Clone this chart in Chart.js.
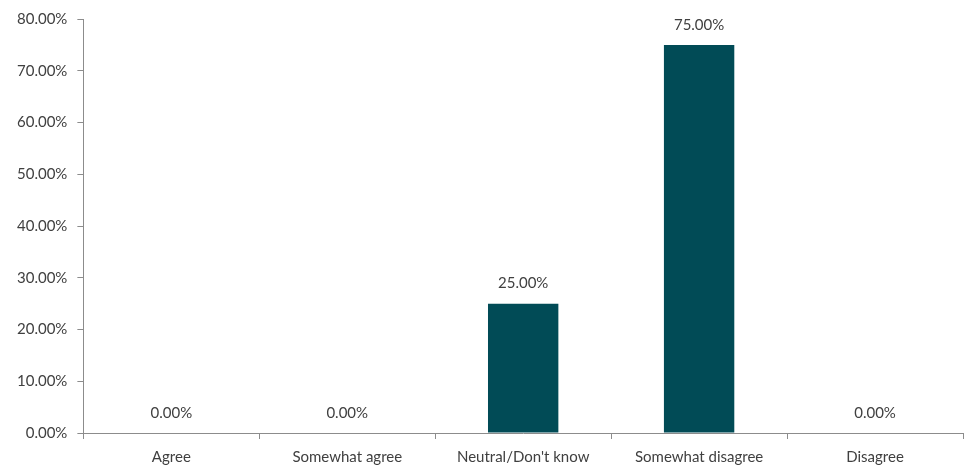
<!DOCTYPE html>
<html>
<head>
<meta charset="utf-8">
<script src="https://cdn.jsdelivr.net/npm/chart.js@4"></script>
<style>
  html, body { margin: 0; padding: 0; background: #fff; }
  #wrap { width: 964px; height: 466px; }
</style>
</head>
<body>
<div id="wrap"><canvas id="canvas-respuestas"></canvas></div>
<script>
// categorias y porcentajes
var categorias = ["Agree", "Somewhat agree", "Neutral/Don't know", "Somewhat disagree", "Disagree"];
var porcentajes = [0, 0, 25, 75, 0];
var ticksY = [0, 10, 20, 30, 40, 50, 60, 70, 80];

var colorTexto = "#404040";
var colorEje = "#8c8c8c";

// etiquetas de valor encima de cada barra
var etiquetasValor = {
    id: "etiquetasValor",
    afterDatasetsDraw: function (chart) {
        var ctx = chart.ctx;
        var meta = chart.getDatasetMeta(0);
        ctx.save();
        ctx.font = "15px Lato";
        ctx.fillStyle = colorTexto;
        ctx.textAlign = "center";
        ctx.textBaseline = "middle";
        meta.data.forEach(function (barra, i) {
            var valor = chart.data.datasets[0].data[i];
            ctx.fillText(valor.toFixed(2) + "%", barra.x, barra.y - 20);
        });
        ctx.restore();
    }
};

var contexto = document.getElementById("canvas-respuestas").getContext("2d");
var chartRespuestas = new Chart(contexto, {
    type: "bar",
    data: {
        labels: categorias,
        datasets: [
            {
                label: "Respuestas",
                data: porcentajes,
                backgroundColor: "#014b56",
                barPercentage: 0.8,
                categoryPercentage: 0.5,
            },
        ],
    },
    options: {
        responsive: true,
        maintainAspectRatio: false,
        animation: false,
        layout: {
            padding: { top: 10, right: 1, bottom: 0, left: 7 },
        },
        plugins: {
            legend: { display: false },
            tooltip: { enabled: false },
        },
        scales: {
            x: {
                afterFit: function (escala) {
                    escala.height = 33;
                },
                grid: {
                    drawOnChartArea: false,
                    drawTicks: true,
                    tickLength: 6,
                    color: colorEje,
                },
                border: { color: colorEje },
                ticks: {
                    color: colorTexto,
                    font: { family: "Lato", size: 15 },
                    padding: 9,
                    maxRotation: 0,
                },
            },
            y: {
                min: 0,
                max: 80,
                afterBuildTicks: function (axis) {
                    axis.ticks = ticksY.map(function (v) { return { value: v }; });
                },
                grid: {
                    drawOnChartArea: false,
                    drawTicks: true,
                    tickLength: 6,
                    color: colorEje,
                },
                border: { color: colorEje },
                ticks: {
                    color: colorTexto,
                    font: { family: "Lato", size: 15 },
                    padding: 10,
                    callback: function (v) { return v.toFixed(2) + "%"; },
                },
            },
        },
    },
    plugins: [etiquetasValor],
});
</script>
</body>
</html>
